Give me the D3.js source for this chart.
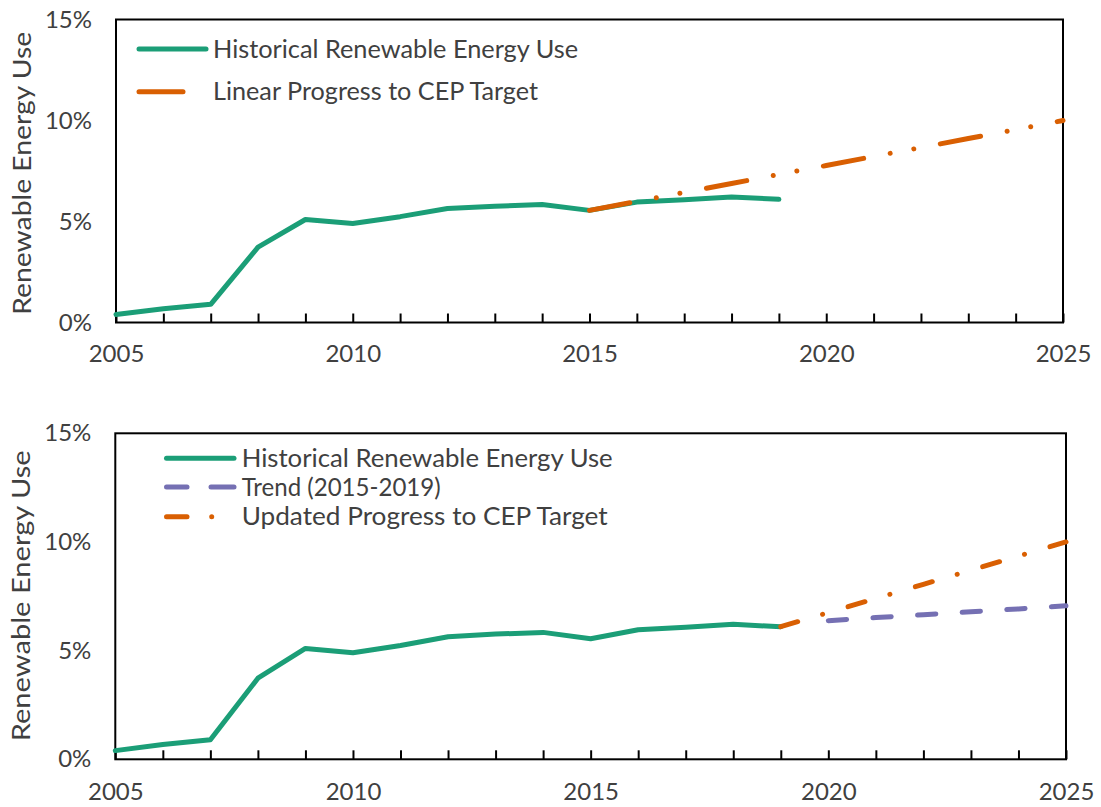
<!DOCTYPE html>
<html><head><meta charset="utf-8">
<script src="https://cdn.jsdelivr.net/npm/d3@7"></script>
<style>
body{margin:0;background:#fff}
text{font-family:Lato, "DejaVu Sans", sans-serif; fill:#404040}
</style>
</head><body>
<svg id="c" width="1101" height="807"></svg>
<script>
// ---------- data ----------
const histYears = [2005,2006,2007,2008,2009,2010,2011,2012,2013,2014,2015,2016,2017,2018,2019];
const histValues = [0.40,0.68,0.90,3.73,5.10,4.90,5.24,5.64,5.76,5.84,5.55,5.96,6.08,6.21,6.10];
const linearYears = [2015,2016,2017,2018,2019,2020,2021,2022,2023,2024,2025];
const linearValues = [5.55,5.99,6.44,6.88,7.33,7.77,8.22,8.66,9.11,9.55,10.00];
const trendYears = [2020,2021,2022,2023,2024,2025];
const trendValues = [6.38,6.52,6.65,6.79,6.92,7.06];
const updatedYears = [2019,2020,2021,2022,2023,2024,2025];
const updatedValues = [6.10,6.75,7.40,8.05,8.70,9.35,10.00];
const xTickYears = [2005,2006,2007,2008,2009,2010,2011,2012,2013,2014,2015,2016,2017,2018,2019,2020,2021,2022,2023,2024,2025];
const xTickLabels = [2005,2010,2015,2020,2025];
const yTickValues = [0,5,10,15];
const yAxisTitle = "Renewable Energy Use";
const topLegendLabels = ["Historical Renewable Energy Use","Linear Progress to CEP Target"];
const bottomLegendLabels = ["Historical Renewable Energy Use","Trend (2015-2019)","Updated Progress to CEP Target"];

// ---------- styles ----------
const GREEN = "#1b9e77", ORANGE = "#d95f02", PURPLE = "#7570b3";
const FONT = 24, LEGEND_FONT = 25, TITLE_FONT = 25.5;
const svg = d3.select("#c");

function panel(box) {
  const g = svg.append("g");
  const x = d3.scaleLinear().domain([2005,2025]).range([box.left, box.right]);
  const y = d3.scaleLinear().domain([0,15]).range([box.bottom, box.top]);

  const xa = g.append("g").attr("transform", `translate(0,${box.bottom})`)
    .call(d3.axisBottom(x).tickValues(xTickYears).tickSizeInner(-9).tickSizeOuter(0)
      .tickFormat(d => xTickLabels.includes(d) ? String(d) : ""));
  xa.select(".domain").remove();
  xa.selectAll(".tick line").attr("stroke", "#000").attr("stroke-width", 2);
  xa.selectAll(".tick text").attr("y", box.xLabelOffset).attr("dy", "0.35em")
    .attr("font-size", FONT).attr("font-family", null).attr("fill", null);

  const ya = g.append("g").attr("transform", `translate(${box.left},0)`)
    .call(d3.axisLeft(y).tickValues(yTickValues).tickSize(0).tickPadding(24).tickFormat(d => d + "%"));
  ya.select(".domain").remove();
  ya.selectAll(".tick text").attr("font-size", FONT).attr("font-family", null).attr("fill", null);

  g.append("text")
    .attr("transform", `translate(${box.titleX},${box.titleY}) rotate(-90)`)
    .attr("text-anchor", "middle").attr("dy", "0.35em").attr("font-size", TITLE_FONT)
    .attr("textLength", box.titleLen).attr("lengthAdjust", "spacingAndGlyphs")
    .text(yAxisTitle);

  g.append("rect").attr("x", box.left).attr("y", box.top)
    .attr("width", box.right - box.left).attr("height", box.bottom - box.top)
    .attr("fill", "none").attr("stroke", "#000").attr("stroke-width", 2);

  const line = d3.line().x(d => x(d[0])).y(d => y(d[1]));
  const series = (years, vals, color, dash) => g.append("path")
    .datum(years.map((yr, i) => [yr, vals[i]]))
    .attr("d", line).attr("fill", "none").attr("stroke", color)
    .attr("stroke-width", 5).attr("stroke-linecap", "round").attr("stroke-linejoin", "round")
    .attr("stroke-dasharray", dash);
  return {g, x, y, series};
}

function legendLine(g, x1, x2, yy, color) {
  g.append("line").attr("x1", x1).attr("x2", x2).attr("y1", yy).attr("y2", yy)
    .attr("stroke", color).attr("stroke-width", 5).attr("stroke-linecap", "round");
}
function legendText(g, xx, yy, t, len) {
  g.append("text").attr("x", xx).attr("y", yy).attr("dy", "0.35em").attr("font-size", LEGEND_FONT)
    .attr("textLength", len).attr("lengthAdjust", "spacingAndGlyphs").text(t);
}

// ---------- top panel ----------
const topPanel = panel({left:116, right:1063, top:19.5, bottom:322.5, xLabelOffset:31,
  titleX:22, titleY:173.3, titleLen:283});
topPanel.series(histYears, histValues, GREEN, null);
topPanel.series(linearYears, linearValues, ORANGE, "41 27 0.01 24 0.01 27");
legendLine(topPanel.g, 139, 206, 49, GREEN);
legendText(topPanel.g, 213, 49, topLegendLabels[0], 365);
legendLine(topPanel.g, 139, 183, 91.7, ORANGE);
legendText(topPanel.g, 213, 91.7, topLegendLabels[1], 325);

// ---------- bottom panel ----------
const botPanel = panel({left:115.3, right:1066, top:433.3, bottom:759.3, xLabelOffset:32.4,
  titleX:21, titleY:595.8, titleLen:291});
botPanel.series(histYears, histValues, GREEN, null);
botPanel.series(trendYears, trendValues, PURPLE, "18.3 26.4");
botPanel.series(updatedYears, updatedValues, ORANGE, "17.6 26 0.01 26.6");
legendLine(botPanel.g, 166.5, 234, 458.3, GREEN);
legendText(botPanel.g, 241.7, 458.3, bottomLegendLabels[0], 371);
legendLine(botPanel.g, 166.5, 187, 487, PURPLE);
legendLine(botPanel.g, 211, 234, 487, PURPLE);
legendText(botPanel.g, 241.7, 487, bottomLegendLabels[1], 199);
legendLine(botPanel.g, 166.5, 187, 516.7, ORANGE);
legendLine(botPanel.g, 211.7, 211.71, 516.7, ORANGE);
legendText(botPanel.g, 241.7, 516.7, bottomLegendLabels[2], 366);
</script>
</body></html>
